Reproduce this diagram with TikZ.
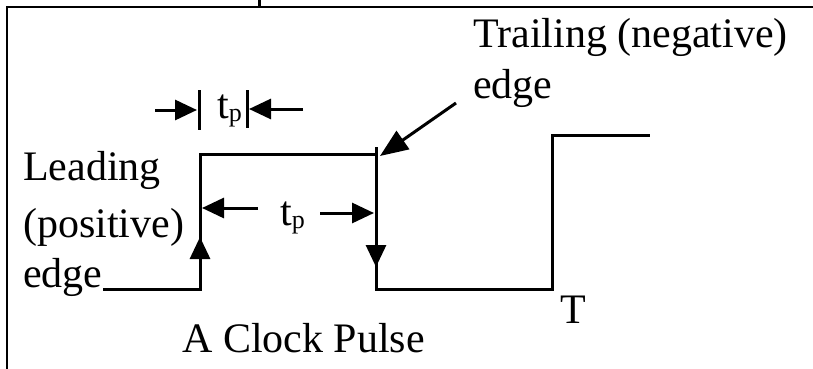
\documentclass[tikz,border=0pt]{standalone}
\usepackage{fontspec}
\setmainfont{Liberation Serif}
\usetikzlibrary{arrows.meta}
\newcommand{\tpulse}{t\raisebox{-3pt}{\fontsize{26}{26}\selectfont p}}

\begin{document}
\begin{tikzpicture}[x=1pt,y=-1pt,
txt/.style={anchor=base west,inner sep=0pt,font=\fontsize{42}{52}\selectfont},
wave/.style={line width=3pt},
frame/.style={line width=2pt},
bar/.style={line width=3pt},
head/.style={line width=3pt,-{Triangle[length=22pt,width=20pt]}},
bighead/.style={line width=3pt,-{Triangle[length=28pt,width=22pt]}}]
\useasboundingbox (0,0) rectangle (813,369);

% frame
\coordinate (frame-0) at (7,369);
\coordinate (frame-1) at (7,7);
\coordinate (frame-2) at (813,7);
\coordinate (tick-0) at (259,0);
\coordinate (tick-1) at (259,7);
\draw[frame] (frame-0)--(frame-1)--(frame-2);
\draw[bar] (tick-0)--(tick-1);

% labels
\node [txt] (lead-1) at (23,180) {Leading};
\node [txt] (lead-2) at (23,237) {(positive)};
\node [txt] (lead-3) at (23,287) {edge};
\node [txt] (trail-1) at (473,48) {Trailing (negative)};
\node [txt] (trail-2) at (473,98) {edge};
\node [txt] (period) at (560,323) {T};
\node [txt] (title) at (182,352) {A Clock Pulse};
\node [txt] (tp-top) at (217,118) {\tpulse};
\node [txt] (tp-mid) at (280,225) {\tpulse};

% waveform
\coordinate (wave-0) at (103,289);
\coordinate (wave-1) at (200,289);
\coordinate (wave-2) at (200,154);
\coordinate (wave-3) at (376,154);
\coordinate (wave-4) at (376,147);
\coordinate (wave-5) at (376,289);
\coordinate (wave-6) at (552,289);
\coordinate (wave-7) at (552,135);
\coordinate (wave-8) at (650,135);
\draw[wave] (wave-0)--(wave-1)--(wave-2)--(wave-3);
\draw[wave] (wave-4)--(wave-5)--(wave-6)--(wave-7)--(wave-8);

% edge arrows
\coordinate (up-0) at (200,262);
\coordinate (up-1) at (200,237);
\coordinate (down-0) at (376,240);
\coordinate (down-1) at (376,267);
\draw[head] (up-0)--(up-1);
\draw[head] (down-0)--(down-1);

% width of the pulse (top)
\coordinate (bar-0) at (199,90);
\coordinate (bar-1) at (199,130);
\coordinate (bar-2) at (247,90);
\coordinate (bar-3) at (247,128);
\draw[bar] (bar-0)--(bar-1);
\draw[bar] (bar-2)--(bar-3);
\coordinate (in-0) at (155,110);
\coordinate (in-1) at (197,110);
\coordinate (in-2) at (303,109);
\coordinate (in-3) at (249,109);
\draw[head] (in-0)--(in-1);
\draw[head] (in-2)--(in-3);

% width of the pulse (inside)
\coordinate (out-0) at (258,208);
\coordinate (out-1) at (202,208);
\coordinate (out-2) at (320,213);
\coordinate (out-3) at (374,213);
\draw[head] (out-0)--(out-1);
\draw[head] (out-2)--(out-3);

% trailing edge pointer
\coordinate (ptr-0) at (456,103);
\coordinate (ptr-1) at (380,156);
\draw[bighead] (ptr-0)--(ptr-1);
\end{tikzpicture}
\end{document}
